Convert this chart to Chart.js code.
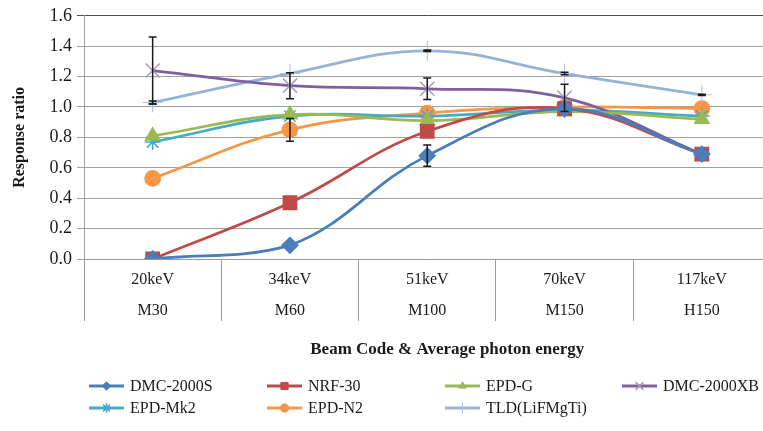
<!DOCTYPE html>
<html>
<head>
<meta charset="utf-8">
<script src="https://cdn.jsdelivr.net/npm/chart.js@4.4.1/dist/chart.umd.min.js"></script>
<style>
  html, body { margin: 0; padding: 0; background: #fff; overflow: hidden; }
  #wrap { width: 782px; height: 431px; }
</style>
</head>
<body>
<div id="wrap"><canvas id="lineChart"></canvas></div>
<script>
const energies = ['20keV', '34keV', '51keV', '70keV', '117keV'];
const beamCodes = ['M30', 'M60', 'M100', 'M150', 'H150'];
const yTicks = [0.0, 0.2, 0.4, 0.6, 0.8, 1.0, 1.2, 1.4, 1.6];

const dmc2000s  = [0.00, 0.09, 0.68, 0.99, 0.69];
const nrf30     = [0.00, 0.37, 0.84, 0.99, 0.69];
const epdG      = [0.81, 0.95, 0.91, 0.97, 0.92];
const dmc2000xb = [1.24, 1.14, 1.12, 1.06, 0.69];
const epdMk2    = [0.77, 0.94, 0.94, 0.98, 0.94];
const epdN2     = [0.53, 0.85, 0.96, 1.00, 0.99];
const tld       = [1.03, 1.22, 1.37, 1.22, 1.08];

// error bar half-lengths (null = no bar)
const dmc2000sErr  = [null, null, 0.07, null, null];
const dmc2000xbErr = [0.22, 0.085, 0.07, 0.09, null];
const epdN2Err     = [null, 0.075, null, null, null];
const tldErr       = [0.01, null, 0.005, 0.008, 0.004];

const serif = "'Liberation Serif', 'Times New Roman', serif";

const datasets = [
  { label: 'DMC-2000S', data: dmc2000s, errors: dmc2000sErr, borderColor: '#4A7EBB', backgroundColor: '#4A7EBB',
    pointStyle: 'rectRot', pointRadius: 7, pointBorderColor: '#4A7EBB' },
  { label: 'NRF-30', data: nrf30, borderColor: '#BE4B48', backgroundColor: '#BE4B48',
    pointStyle: 'rect', pointRadius: 8.5, pointBorderColor: '#BE4B48' },
  { label: 'EPD-G', data: epdG, borderColor: '#98B954', backgroundColor: '#98B954',
    pointStyle: 'triangle', pointRadius: 7, pointBorderColor: '#98B954' },
  { label: 'DMC-2000XB', data: dmc2000xb, errors: dmc2000xbErr, borderColor: '#7D60A0', backgroundColor: '#7D60A0',
    pointStyle: 'crossRot', pointRadius: 10, pointBorderColor: '#A59BBE', pointBorderWidth: 1.5 },
  { label: 'EPD-Mk2', data: epdMk2, borderColor: '#46AAC5', backgroundColor: '#46AAC5',
    pointStyle: 'star', pointRadius: 8, pointBorderColor: '#46AAC5', pointBorderWidth: 1.5 },
  { label: 'EPD-N2', data: epdN2, errors: epdN2Err, borderColor: '#F79646', backgroundColor: '#F79646',
    pointStyle: 'circle', pointRadius: 7, pointBorderColor: '#F79646' },
  { label: 'TLD(LiFMgTi)', data: tld, errors: tldErr, borderColor: '#95B3D7', backgroundColor: '#95B3D7',
    pointStyle: 'cross', pointRadius: 10, pointBorderColor: '#A9C0E0', pointBorderWidth: 1 }
];
datasets.forEach(ds => {
  ds.borderWidth = 2.75;
  ds.tension = 0.4;
  ds.fill = false;
  ds.pointBackgroundColor = ds.backgroundColor;
});

// black error bars drawn through the scales
const errorBars = {
  id: 'errorBars',
  afterDatasetsDraw(chart) {
    const ctx = chart.ctx;
    const xs = chart.scales.x, ys = chart.scales.y;
    ctx.save();
    ctx.strokeStyle = '#1a1a1a';
    ctx.lineWidth = 1.5;
    chart.data.datasets.forEach(ds => {
      if (!ds.errors) return;
      ds.errors.forEach((e, i) => {
        if (e == null) return;
        const x = xs.getPixelForValue(i);
        const top = ys.getPixelForValue(ds.data[i] + e);
        const bot = ys.getPixelForValue(ds.data[i] - e);
        ctx.beginPath();
        ctx.moveTo(x, top); ctx.lineTo(x, bot);
        ctx.moveTo(x - 4, top); ctx.lineTo(x + 4, top);
        ctx.moveTo(x - 4, bot); ctx.lineTo(x + 4, bot);
        ctx.stroke();
      });
    });
    ctx.restore();
  }
};

// x title and the two-row legend below the axis
const bottomText = {
  id: 'bottomText',
  afterDraw(chart) {
    const ctx = chart.ctx;
    const area = chart.chartArea;
    ctx.save();
    ctx.fillStyle = '#1a1a1a';
    ctx.font = "bold 17px " + serif;
    ctx.textAlign = 'center';
    ctx.textBaseline = 'middle';
    ctx.fillText('Beam Code & Average photon energy', (area.left + area.right) / 2 + 20, 350);

    const cols = [89, 267, 445, 622];
    const rows = [386, 408];
    ctx.font = "16px " + serif;
    ctx.textAlign = 'left';
    chart.data.datasets.forEach((ds, i) => {
      const x = cols[i % 4], y = rows[Math.floor(i / 4)];
      ctx.strokeStyle = ds.borderColor;
      ctx.lineWidth = 3;
      ctx.beginPath();
      ctx.moveTo(x, y); ctx.lineTo(x + 35, y);
      ctx.stroke();
      ctx.fillStyle = ds.pointBackgroundColor;
      ctx.strokeStyle = ds.pointBorderColor;
      ctx.lineWidth = ds.pointBorderWidth || 1;
      Chart.helpers.drawPoint(ctx, { pointStyle: ds.pointStyle, radius: Math.min(ds.pointRadius * 0.6, 5.5), rotation: 0, borderWidth: ctx.lineWidth }, x + 17.5, y);
      ctx.fillStyle = '#1a1a1a';
      ctx.fillText(ds.label, x + 41, y + 1);
    });
    ctx.restore();
  }
};

new Chart(document.getElementById('lineChart'), {
  type: 'line',
  data: {
    labels: energies.map((e, i) => [e, beamCodes[i]]),
    datasets: datasets
  },
  options: {
    responsive: true,
    maintainAspectRatio: false,
    animation: false,
    layout: { padding: { top: 15, right: 4, bottom: 0, left: 0 } },
    plugins: {
      legend: { display: false },
      tooltip: { enabled: false }
    },
    scales: {
      x: {
        type: 'category',
        offset: true,
        grid: { drawOnChartArea: false, offset: true, tickLength: 62, color: '#9a9a9a', lineWidth: 1 },
        border: { color: '#9a9a9a' },
        ticks: { padding: -56, color: '#1a1a1a', font: { family: serif, size: 16, lineHeight: 1.9 }, maxRotation: 0, autoSkip: false },
        afterFit(scale) { scale.height = 172; }
      },
      y: {
        min: 0,
        max: 1.6,
        afterBuildTicks(scale) { scale.ticks = yTicks.map(v => ({ value: v })); },
        grid: {
          tickLength: 7,
          lineWidth: 1,
          color: c => (c.tick && c.tick.value === 1.6 ? '#4d4d4d' : '#a0a0a0')
        },
        border: { display: true, color: '#a0a0a0' },
        ticks: {
          padding: 5,
          color: '#1a1a1a',
          font: { family: serif, size: 18 },
          callback: v => Number(v).toFixed(1)
        },
        title: {
          display: true,
          text: 'Response ratio',
          color: '#1a1a1a',
          font: { family: serif, size: 16, weight: 'bold' },
          padding: { top: 10, bottom: 0 }
        },
        afterFit(scale) { scale.width = 84; }
      }
    }
  },
  plugins: [errorBars, bottomText]
});
</script>
</body>
</html>
